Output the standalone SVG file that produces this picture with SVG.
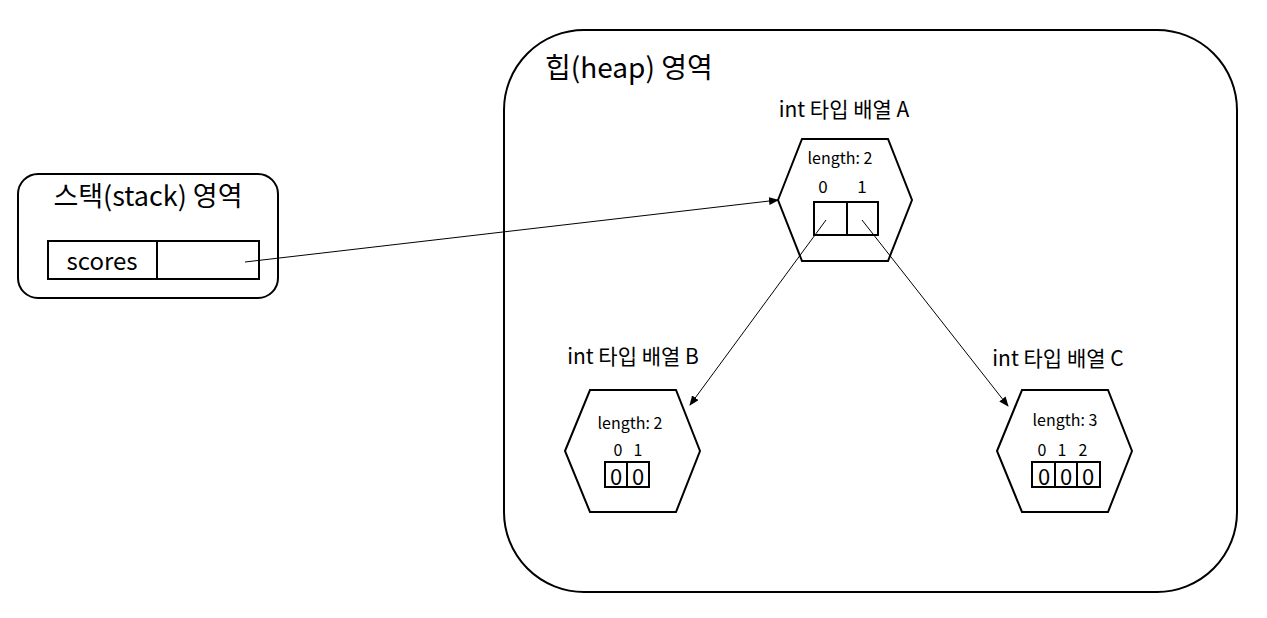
<svg xmlns="http://www.w3.org/2000/svg" width="1267" height="618" viewBox="0 0 1267 618">
<style>
text{font-family:"Noto Sans CJK KR","Noto Sans",sans-serif;fill:#000}
.s{fill:#fff;stroke:#000;stroke-width:2}
.c{fill:none;stroke:#000;stroke-width:2}
.l{stroke:#000;stroke-width:1;fill:none;marker-end:url(#ah)}
</style>
<defs><marker id="ah" markerWidth="10" markerHeight="8" refX="9" refY="4" orient="auto" markerUnits="userSpaceOnUse"><path d="M0,0L10,4L0,8z" fill="#000"/></marker></defs>
<rect width="1267" height="618" fill="#fff"/>
<g id="heap"><rect x="504" y="30" width="733" height="562" rx="80" class="s"/>
<text x="545" y="78" font-size="28">힙(heap) 영역</text></g>
<g id="stack"><rect x="18" y="174" width="260" height="124" rx="20" class="s"/>
<text x="148" y="206" font-size="27" text-anchor="middle">스택(stack) 영역</text>
<rect x="48" y="241" width="211" height="38" class="c"/><line x1="157" y1="241" x2="157" y2="279" class="c"/>
<text x="102" y="270" font-size="24" text-anchor="middle">scores</text></g>
<g id="arrA"><text x="844" y="117" font-size="21" text-anchor="middle">int 타입 배열 A</text>
<polygon points="778,200 802,139 888,139 912,200 888,261 802,261" class="s"/>
<text x="840" y="164" font-size="16" text-anchor="middle">length: 2</text>
<text x="823" y="193" font-size="17" text-anchor="middle">0</text><text x="862" y="193" font-size="17" text-anchor="middle">1</text>
<rect x="814" y="202" width="64" height="33" class="c"/><line x1="847" y1="202" x2="847" y2="235" class="c"/></g>
<g id="arrB"><text x="633" y="364" font-size="21" text-anchor="middle">int 타입 배열 B</text>
<polygon points="565,451 590,390 676,390 700,451 676,512 590,512" class="s"/>
<text x="630" y="429" font-size="16" text-anchor="middle">length: 2</text>
<text x="618" y="456" font-size="16" text-anchor="middle">0</text><text x="638" y="456" font-size="16" text-anchor="middle">1</text>
<rect x="605" y="462" width="44" height="25" class="c"/><line x1="627" y1="462" x2="627" y2="487" class="c"/>
<text x="616" y="485" font-size="22" text-anchor="middle">0</text><text x="638" y="485" font-size="22" text-anchor="middle">0</text></g>
<g id="arrC"><text x="1058" y="366" font-size="21" text-anchor="middle">int 타입 배열 C</text>
<polygon points="997,451 1022,390 1108,390 1132,451 1108,512 1022,512" class="s"/>
<text x="1065" y="426" font-size="16" text-anchor="middle">length: 3</text>
<text x="1042" y="456" font-size="16" text-anchor="middle">0</text><text x="1062" y="456" font-size="16" text-anchor="middle">1</text><text x="1083" y="456" font-size="16" text-anchor="middle">2</text>
<rect x="1032" y="462" width="68" height="25" class="c"/><line x1="1055" y1="462" x2="1055" y2="487" class="c"/><line x1="1077" y1="462" x2="1077" y2="487" class="c"/>
<text x="1044" y="485" font-size="22" text-anchor="middle">0</text><text x="1066" y="485" font-size="22" text-anchor="middle">0</text><text x="1088" y="485" font-size="22" text-anchor="middle">0</text></g>
<g id="connectors">
<line x1="245" y1="262" x2="778" y2="200" class="l"/>
<line x1="826" y1="220" x2="690" y2="405" class="l"/>
<line x1="862" y1="220" x2="1008" y2="406" class="l"/>
</g>
</svg>
